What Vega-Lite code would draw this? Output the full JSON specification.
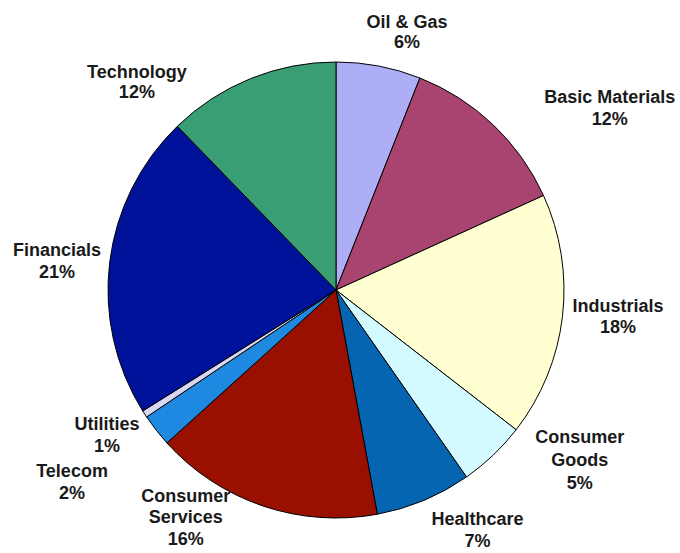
{
  "$schema": "https://vega.github.io/schema/vega-lite/v6.json",
  "width": 672,
  "height": 526,
  "autosize": "none",
  "padding": {"left": 0, "top": 27, "right": 8, "bottom": 0},
  "background": "#ffffff",
  "view": {"stroke": null},
  "data": {
    "values": [
      {"idx": 1, "name": "Oil & Gas", "value": 6.0, "label": "Oil & Gas\n6%"},
      {"idx": 2, "name": "Basic Materials", "value": 12.2, "label": "Basic Materials\n12%"},
      {"idx": 3, "name": "Industrials", "value": 17.3, "label": "Industrials\n18%"},
      {"idx": 4, "name": "Consumer Goods", "value": 4.8, "label": "Consumer\nGoods\n5%"},
      {"idx": 5, "name": "Healthcare", "value": 6.8, "label": "Healthcare\n7%"},
      {"idx": 6, "name": "Consumer Services", "value": 16.2, "label": "Consumer\nServices\n16%"},
      {"idx": 7, "name": "Telecom", "value": 2.3, "label": "Telecom\n2%"},
      {"idx": 8, "name": "Utilities", "value": 0.5, "label": "Utilities\n1%"},
      {"idx": 9, "name": "Financials", "value": 21.65, "label": "Financials\n21%"},
      {"idx": 10, "name": "Technology", "value": 12.25, "label": "Technology\n12%"}
    ]
  },
  "encoding": {
    "theta": {"field": "value", "type": "quantitative", "stack": true},
    "order": {"field": "idx", "type": "quantitative", "sort": "ascending"}
  },
  "layer": [
    {
      "mark": {"type": "arc", "outerRadius": 228, "stroke": "#000000", "strokeWidth": 1},
      "encoding": {
        "color": {
          "field": "name",
          "type": "nominal",
          "legend": null,
          "scale": {
            "domain": ["Oil & Gas", "Basic Materials", "Industrials", "Consumer Goods", "Healthcare", "Consumer Services", "Telecom", "Utilities", "Financials", "Technology"],
            "range": ["#AEAEF7", "#A8446F", "#FFFFD2", "#D2FAFF", "#0565B0", "#9A1000", "#1F88E0", "#D8D8F2", "#001299", "#3A9E75"]
          }
        }
      }
    },
    {
      "mark": {"type": "text", "radius": 267, "dx": 21, "dy": -5, "font": "Liberation Sans", "fontWeight": "bold", "fontSize": 18, "lineBreak": "\n", "lineHeight": 20, "align": "center", "baseline": "middle", "fill": "#1a1a1a"},
      "encoding": {"detail": {"field": "name"}, "text": {"condition": {"test": "datum.name === 'Oil & Gas'", "field": "label"}, "value": ""}}
    },
    {
      "mark": {"type": "text", "radius": 290, "dx": 74, "dy": 18, "font": "Liberation Sans", "fontWeight": "bold", "fontSize": 18, "lineBreak": "\n", "lineHeight": 22, "align": "center", "baseline": "middle", "fill": "#1a1a1a"},
      "encoding": {"detail": {"field": "name"}, "text": {"condition": {"test": "datum.name === 'Basic Materials'", "field": "label"}, "value": ""}}
    },
    {
      "mark": {"type": "text", "radius": 283, "dx": 1, "dy": -16, "font": "Liberation Sans", "fontWeight": "bold", "fontSize": 18, "lineBreak": "\n", "lineHeight": 21, "align": "center", "baseline": "middle", "fill": "#1a1a1a"},
      "encoding": {"detail": {"field": "name"}, "text": {"condition": {"test": "datum.name === 'Industrials'", "field": "label"}, "value": ""}}
    },
    {
      "mark": {"type": "text", "radius": 297, "dx": 39, "dy": -67, "font": "Liberation Sans", "fontWeight": "bold", "fontSize": 18, "lineBreak": "\n", "lineHeight": 23, "align": "center", "baseline": "middle", "fill": "#1a1a1a"},
      "encoding": {"detail": {"field": "name"}, "text": {"condition": {"test": "datum.name === 'Consumer Goods'", "field": "label"}, "value": ""}}
    },
    {
      "mark": {"type": "text", "radius": 279, "dx": 34, "dy": -27, "font": "Liberation Sans", "fontWeight": "bold", "fontSize": 18, "lineBreak": "\n", "lineHeight": 22, "align": "center", "baseline": "middle", "fill": "#1a1a1a"},
      "encoding": {"detail": {"field": "name"}, "text": {"condition": {"test": "datum.name === 'Healthcare'", "field": "label"}, "value": ""}}
    },
    {
      "mark": {"type": "text", "radius": 272, "dx": -63, "dy": -51, "font": "Liberation Sans", "fontWeight": "bold", "fontSize": 18, "lineBreak": "\n", "lineHeight": 21.5, "align": "center", "baseline": "middle", "fill": "#1a1a1a"},
      "encoding": {"detail": {"field": "name"}, "text": {"condition": {"test": "datum.name === 'Consumer Services'", "field": "label"}, "value": ""}}
    },
    {
      "mark": {"type": "text", "radius": 326, "dx": -7, "dy": -19, "font": "Liberation Sans", "fontWeight": "bold", "fontSize": 18, "lineBreak": "\n", "lineHeight": 22, "align": "center", "baseline": "middle", "fill": "#1a1a1a"},
      "encoding": {"detail": {"field": "name"}, "text": {"condition": {"test": "datum.name === 'Telecom'", "field": "label"}, "value": ""}}
    },
    {
      "mark": {"type": "text", "radius": 271, "dx": -1.5, "dy": -12, "font": "Liberation Sans", "fontWeight": "bold", "fontSize": 18, "lineBreak": "\n", "lineHeight": 22, "align": "center", "baseline": "middle", "fill": "#1a1a1a"},
      "encoding": {"detail": {"field": "name"}, "text": {"condition": {"test": "datum.name === 'Utilities'", "field": "label"}, "value": ""}}
    },
    {
      "mark": {"type": "text", "radius": 281, "dx": 0, "dy": -5, "font": "Liberation Sans", "fontWeight": "bold", "fontSize": 18, "lineBreak": "\n", "lineHeight": 22, "align": "center", "baseline": "middle", "fill": "#1a1a1a"},
      "encoding": {"detail": {"field": "name"}, "text": {"condition": {"test": "datum.name === 'Financials'", "field": "label"}, "value": ""}}
    },
    {
      "mark": {"type": "text", "radius": 288, "dx": -91, "dy": 50, "font": "Liberation Sans", "fontWeight": "bold", "fontSize": 18, "lineBreak": "\n", "lineHeight": 20, "align": "center", "baseline": "middle", "fill": "#1a1a1a"},
      "encoding": {"detail": {"field": "name"}, "text": {"condition": {"test": "datum.name === 'Technology'", "field": "label"}, "value": ""}}
    }
  ]
}
